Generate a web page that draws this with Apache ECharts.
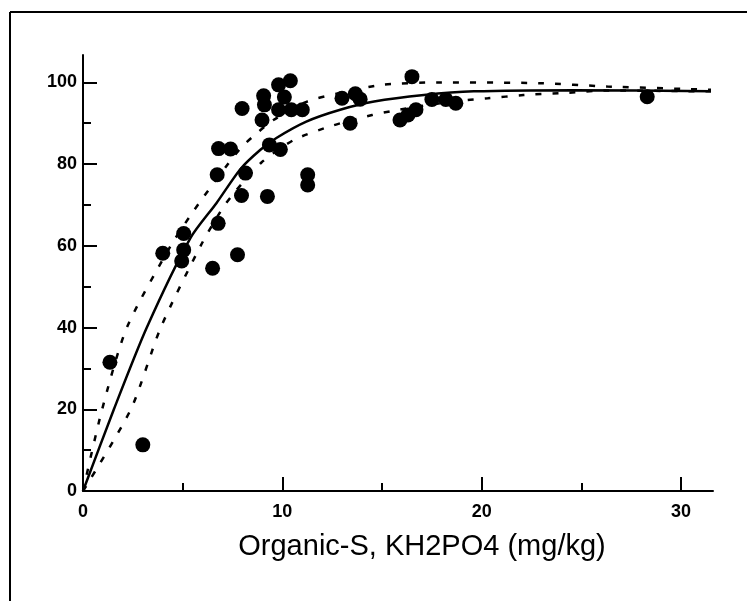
<!DOCTYPE html>
<html><head><meta charset="utf-8">
<script src="https://cdn.jsdelivr.net/npm/echarts@6/dist/echarts.min.js"></script>
<style>html,body{margin:0;padding:0;background:#fff}#c{width:754px;height:601px}</style>
</head><body><div id="c"></div>
<script>
const xTitle = 'Organic-S, KH2PO4 (mg/kg)';
const xMajor = [0, 10, 20, 30];
const xMinor = [5, 15, 25];
const yMajor = [0, 20, 40, 60, 80, 100];
const yMinor = [10, 30, 50, 70, 90];
const points = [
  [1.35,31.5],[3.0,11.3],[4.0,58.2],[5.05,63.0],[5.05,59.0],[4.95,56.3],[6.5,54.5],[7.75,57.8],
  [6.78,65.5],[6.73,77.4],[6.8,83.8],[7.4,83.7],[8.15,77.8],[7.95,72.3],[9.25,72.1],[9.35,84.7],
  [9.9,83.6],[7.98,93.6],[8.98,90.8],[9.06,96.7],[9.1,94.5],[9.81,99.4],[10.4,100.4],[10.1,96.4],
  [9.81,93.3],[10.45,93.3],[11.0,93.3],[11.27,77.4],[11.27,74.9],[12.99,96.1],[13.66,97.2],[13.9,95.9],
  [13.4,90.0],[15.9,90.8],[16.3,92.0],[16.7,93.3],[16.5,101.4],[17.5,95.8],[18.2,95.8],[18.7,94.9],[28.3,96.5]
];
const fitLine = [[0,0],[1.55,20],[3.2,40],[5.4,62],[6.7,70.5],[7.9,78.8],[8.9,83.5],[9.7,86.4],[11.2,90.4],[12.9,93.3],[14.6,95.3],[17.1,96.9],[19.6,97.8],[24.6,98.1],[31.5,97.8]];
const upperBand = [[0,0],[0.96,20],[2.2,40],[4.4,60],[5.47,68],[6.05,72],[7.3,80.2],[7.98,84.3],[8.73,87.6],[9.55,90.8],[11.24,95.3],[12.9,97.4],[15,99.4],[17.9,100],[22.9,99.8],[26.3,99],[31.5,98.2]];
const lowerBand = [[0,0],[2.4,20],[3.9,40],[5.9,60],[7.0,69.2],[7.64,73.3],[8.95,80.4],[10.57,85.9],[12.5,89.4],[14.5,92],[15.4,92.9],[17.5,94.6],[19.3,95.7],[20.3,96.1],[22.1,96.9],[24.1,97.4],[26.3,98],[31.5,97.8]];

const font = '"Liberation Sans",Arial,sans-serif';
const chart = echarts.init(document.getElementById('c'), null, {renderer:'canvas'});
const axisLineStyle = {color:'#000', width:2};
chart.setOption({
  backgroundColor:'#fff',
  animation:false,
  graphic:[
    {type:'line', shape:{x1:10,y1:12,x2:747,y2:12}, style:{stroke:'#000', lineWidth:2}},
    {type:'line', shape:{x1:10,y1:12,x2:10,y2:601}, style:{stroke:'#000', lineWidth:2}},
    {type:'text', x:422, y:547, style:{text:xTitle, fill:'#000', font:'29px ' + font, align:'center', verticalAlign:'middle'}}
  ],
  grid:{left:83, right:41, top:55, bottom:110, containLabel:false},
  xAxis:[
    {type:'value', min:0, max:31.6, position:'bottom',
     axisLine:{show:true, onZero:false, lineStyle:axisLineStyle},
     axisTick:{show:true, inside:true, length:14, customValues:xMajor, lineStyle:{color:'#000',width:2}},
     axisLabel:{show:true, customValues:xMajor, margin:12, color:'#000', fontFamily:font, fontWeight:'bold', fontSize:18},
     splitLine:{show:false}},
    {type:'value', min:0, max:31.6, position:'bottom', gridIndex:0,
     axisLine:{show:false, onZero:false},
     axisTick:{show:true, inside:true, length:8, customValues:xMinor, lineStyle:{color:'#000',width:2}},
     axisLabel:{show:false}, splitLine:{show:false}}
  ],
  yAxis:[
    {type:'value', min:0, max:106.7, position:'left',
     axisLine:{show:true, onZero:false, lineStyle:axisLineStyle},
     axisTick:{show:true, inside:true, length:14, customValues:yMajor, lineStyle:{color:'#000',width:2}},
     axisLabel:{show:true, customValues:yMajor, margin:6, color:'#000', fontFamily:font, fontWeight:'bold', fontSize:18},
     splitLine:{show:false}},
    {type:'value', min:0, max:106.7, position:'left',
     axisLine:{show:false, onZero:false},
     axisTick:{show:true, inside:true, length:8, customValues:yMinor, lineStyle:{color:'#000',width:2}},
     axisLabel:{show:false}, splitLine:{show:false}}
  ],
  series:[
    {type:'line', data:upperBand, smooth:0.25, symbol:'none', clip:true,
     lineStyle:{color:'#000', width:2.5, type:[6,11]}},
    {type:'line', data:lowerBand, smooth:0.25, symbol:'none', clip:true,
     lineStyle:{color:'#000', width:2.5, type:[6,11]}},
    {type:'line', data:fitLine, smooth:0.25, symbol:'none', clip:true,
     lineStyle:{color:'#000', width:2.5}},
    {type:'scatter', data:points, symbol:'circle', symbolSize:15, itemStyle:{color:'#000', opacity:1}}
  ]
});
</script></body></html>
